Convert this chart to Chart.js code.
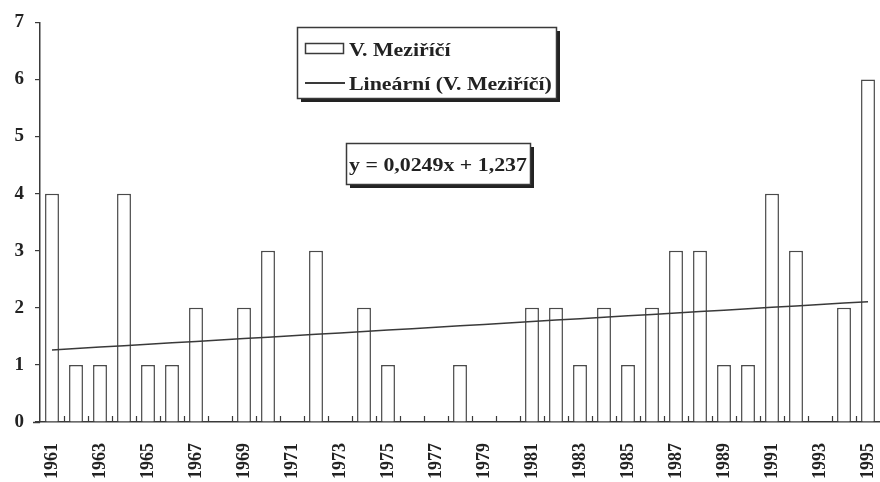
<!DOCTYPE html>
<html>
<head>
<meta charset="utf-8">
<title>V. Meziříčí</title>
<script src="https://cdn.jsdelivr.net/npm/chart.js@4/dist/chart.umd.min.js"></script>
<style>
  html, body { margin: 0; padding: 0; background: #fff; }
  #wrap { width: 880px; height: 482px; }
</style>
</head>
<body>
<div id="wrap"><canvas id="c" width="880" height="482"></canvas></div>
<script>
// Years 1961–1995
const years = [];
for (let y = 1961; y <= 1995; y++) years.push(String(y));

// Yearly counts, V. Meziříčí
const counts = [4, 1, 1, 4, 1, 1, 2, 0, 2, 3, 0, 3, 0, 2, 1, 0, 0, 1, 0, 0,
                2, 2, 1, 2, 1, 2, 3, 3, 1, 1, 4, 3, 0, 2, 6];

// Linear trend: y = 0,0249x + 1,237 (x = 1 for 1961)
const TREND_SLOPE = 0.0249;
const TREND_INTERCEPT = 1.237;
const trendLabel = 'y = 0,0249x + 1,237';
const trend = years.map((_, i) => TREND_SLOPE * (i + 1) + TREND_INTERCEPT);

const yTicks = [0, 1, 2, 3, 4, 5, 6, 7];
const seriesName = 'V. Meziříčí';
const trendName = 'Lineární (V. Meziříčí)';

const FONT = "'Liberation Serif', 'DejaVu Serif', serif";
const INK = '#3a3a3a';

// Small upward marks between categories on the x axis
const catMarks = {
  id: 'catMarks',
  afterDatasetsDraw(chart) {
    const { ctx, scales: { x }, chartArea } = chart;
    ctx.save();
    ctx.strokeStyle = INK;
    ctx.lineWidth = 1.2;
    for (let i = 1; i < years.length; i++) {
      const bx = Math.round((x.getPixelForTick(i - 1) + x.getPixelForTick(i)) / 2) + 0.5;
      ctx.beginPath();
      ctx.moveTo(bx, chartArea.bottom);
      ctx.lineTo(bx, chartArea.bottom - 6);
      ctx.stroke();
    }
    // x axis line reaches slightly left of the y axis
    ctx.lineWidth = 1.5;
    ctx.beginPath();
    ctx.moveTo(33, chartArea.bottom + 0.5);
    ctx.lineTo(chartArea.left, chartArea.bottom + 0.5);
    ctx.stroke();
    ctx.restore();
  }
};

// Legend box and equation box with drop shadows
function shadowBox(ctx, x, y, w, h) {
  ctx.fillStyle = '#222';
  ctx.fillRect(x + 4, y + 4, w, h);
  ctx.fillStyle = '#fff';
  ctx.fillRect(x, y, w, h);
  ctx.strokeStyle = INK;
  ctx.lineWidth = 1.5;
  ctx.strokeRect(x + 0.5, y + 0.5, w, h);
}

// Wide bold serif text (horizontally stretched)
function wideText(ctx, text, x, y, align) {
  const sx = 1.15;
  ctx.save();
  ctx.translate(x, y);
  ctx.scale(sx, 1);
  ctx.textAlign = align;
  ctx.fillText(text, 0, 0);
  ctx.restore();
}

const annotations = {
  id: 'annotations',
  afterDraw(chart) {
    const ctx = chart.ctx;
    ctx.save();
    // legend
    shadowBox(ctx, 297, 27, 259, 71);
    ctx.strokeStyle = INK;
    ctx.lineWidth = 1.5;
    ctx.fillStyle = '#fff';
    ctx.fillRect(305, 43, 38, 10);
    ctx.strokeRect(305.5, 43.5, 38, 10);
    ctx.beginPath();
    ctx.moveTo(305, 83);
    ctx.lineTo(345, 83);
    ctx.lineWidth = 2;
    ctx.stroke();
    ctx.fillStyle = '#222';
    ctx.font = 'bold 19px ' + FONT;
    ctx.textBaseline = 'alphabetic';
    wideText(ctx, seriesName, 349, 56, 'left');
    wideText(ctx, trendName, 349, 90, 'left');
    // equation
    shadowBox(ctx, 346, 143, 184, 41);
    ctx.fillStyle = '#222';
    wideText(ctx, trendLabel, 438, 171, 'center');
    ctx.restore();
  }
};

new Chart(document.getElementById('c'), {
  type: 'bar',
  data: {
    labels: years,
    datasets: [
      {
        type: 'line',
        label: trendName,
        data: trend,
        borderColor: INK,
        borderWidth: 1.5,
        pointRadius: 0,
        fill: false,
        order: 0
      },
      {
        type: 'bar',
        label: seriesName,
        data: counts,
        backgroundColor: '#ffffff',
        borderColor: '#4a4a4a',
        borderWidth: 1.5,
        categoryPercentage: 1.0,
        barPercentage: 0.58,
        order: 1
      }
    ]
  },
  options: {
    responsive: false,
    animation: false,
    layout: { padding: { top: 22, right: 0, left: 0, bottom: 0 } },
    plugins: {
      legend: { display: false },
      tooltip: { enabled: false }
    },
    scales: {
      x: {
        offset: true,
        grid: { display: true, drawOnChartArea: false, drawTicks: false, color: 'rgba(0,0,0,0)' },
        border: { display: true, color: INK, width: 1.5 },
        ticks: {
          autoSkip: false,
          maxRotation: 90,
          minRotation: 90,
          padding: 21,
          color: '#222',
          font: { family: FONT, size: 18, weight: 'bold' },
          callback: (v, i) => (i % 2 === 0 ? years[i] : '')
        },
        afterFit: (s) => { s.height = 60; s.paddingLeft = 0; s.paddingRight = 0; }
      },
      y: {
        min: 0,
        max: 7,
        grid: { display: true, drawOnChartArea: false, drawTicks: true, tickLength: 5, color: INK, lineWidth: 1.2 },
        border: { display: true, color: INK, width: 1.5 },
        afterBuildTicks: (s) => { s.ticks = yTicks.map(v => ({ value: v })); },
        ticks: {
          padding: 11,
          color: '#222',
          font: { family: FONT, size: 19, weight: 'bold' }
        },
        afterFit: (s) => { s.width = 40; }
      }
    }
  },
  plugins: [catMarks, annotations]
});
</script>
</body>
</html>
